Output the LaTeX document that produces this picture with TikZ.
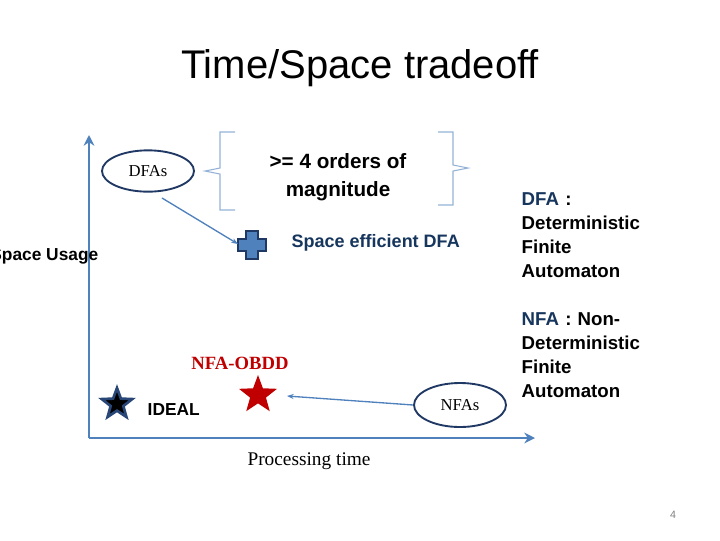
\documentclass[tikz,border=0pt]{standalone}
\usepackage{fontspec}
\setmainfont{Liberation Sans}
\newfontfamily\serifx{Liberation Serif}
\usetikzlibrary{shapes.geometric,arrows.meta}
\definecolor{axblue}{RGB}{79,129,189}
\definecolor{dkblue}{RGB}{31,56,100}
\definecolor{txblue}{RGB}{23,54,93}
\definecolor{starred}{RGB}{192,0,0}
\tikzset{
  ell/.style={ellipse,draw=dkblue,line width=1.4pt,inner sep=0pt},
  sans/.style={font=\bfseries\fontsize{14}{18}\selectfont,align=left},
  brk/.style={draw=axblue!60,line width=0.8pt},
  conn/.style={draw=axblue,line width=1.3pt}
}
\begin{document}
\begin{tikzpicture}[x=0.75pt,y=-0.75pt]
\clip (0,0) rectangle (720,540);
\fill[white] (0,0) rectangle (720,540);
\node (title) at (360,68) {\fontsize{30}{34}\selectfont Time/Space tradeoff};
% axes
\coordinate (o) at (89,438);
\coordinate (ytop) at (89,135);
\coordinate (xend) at (535,438);
\draw[conn,line width=2pt,-{Stealth[length=8pt,width=8pt]}] (o) -- (ytop);
\draw[conn,line width=2pt,-{Stealth[length=8pt,width=8pt]}] (o) -- (xend);
\node[anchor=east,font=\bfseries\fontsize{13}{16}\selectfont] (ylab) at (103,256) {Space Usage};
\node[font=\serifx\fontsize{14.5}{16}\selectfont] (xlab) at (309,461) {Processing time};
% DFAs
\node[ell,minimum width=69pt,minimum height=31pt,font=\serifx\fontsize{12.5}{14}\selectfont] (dfas) at (148,171) {DFAs};
% brackets
\draw[brk] (235,132) -- (220,132) -- (220,168) -- (205,171) -- (220,174) -- (220,210) -- (235,210);
\draw[brk] (438,132) -- (453,132) -- (453,165) -- (468,168) -- (453,171) -- (453,205) -- (438,205);
\node[font=\bfseries\fontsize{15.5}{21}\selectfont,align=center] (orders) at (338,177) {>= 4 orders of\\magnitude};
% plus
\fill[axblue,draw=dkblue,line width=0.8pt] (246,231)--(258,231)--(258,239)--(266,239)--(266,251)--(258,251)--(258,259)--(246,259)--(246,251)--(238,251)--(238,239)--(246,239)--cycle;
\coordinate (plus) at (238,244);
\draw[conn,line width=1pt,-{Stealth[length=5pt]}] (162,198) -- (plus);
\node[anchor=west,text=txblue,font=\bfseries\fontsize{13.5}{16}\selectfont] (sed) at (287,243) {Space efficient DFA};
% stars
\node[star,star points=5,star point ratio=2.4,fill=starred,inner sep=0pt,minimum size=30pt] (red) at (258,395) {};
\node[text=starred,font=\serifx\bfseries\fontsize{14}{16}\selectfont] (obdd) at (240,363) {NFA-OBDD};
\node[star,star points=5,star point ratio=2.4,fill=black,draw=dkblue!80!axblue,line width=2pt,inner sep=0pt,minimum size=24pt] (ideal) at (117,404) {};
\node[anchor=west,font=\bfseries\fontsize{13}{15}\selectfont] (idl) at (143,410) {IDEAL};
% NFAs
\node[ell,minimum width=69pt,minimum height=33pt,font=\serifx\fontsize{12.5}{14}\selectfont] (nfas) at (460,405) {NFAs};
\draw[conn,line width=1pt,-{Stealth[length=5pt]}] (nfas.west) -- (287,396);
% right text
\node[anchor=north west,sans,text width=150pt] (dfadef) at (517,188) {{\color{txblue}DFA} :\\Deterministic\\Finite\\Automaton};
\node[anchor=north west,sans,text width=150pt] (nfadef) at (517,308) {{\color{txblue}NFA} : Non-\\Deterministic\\Finite\\Automaton};
\node[text=gray,font=\fontsize{8}{10}\selectfont] (pg) at (673,515) {4};
\end{tikzpicture}
\end{document}
